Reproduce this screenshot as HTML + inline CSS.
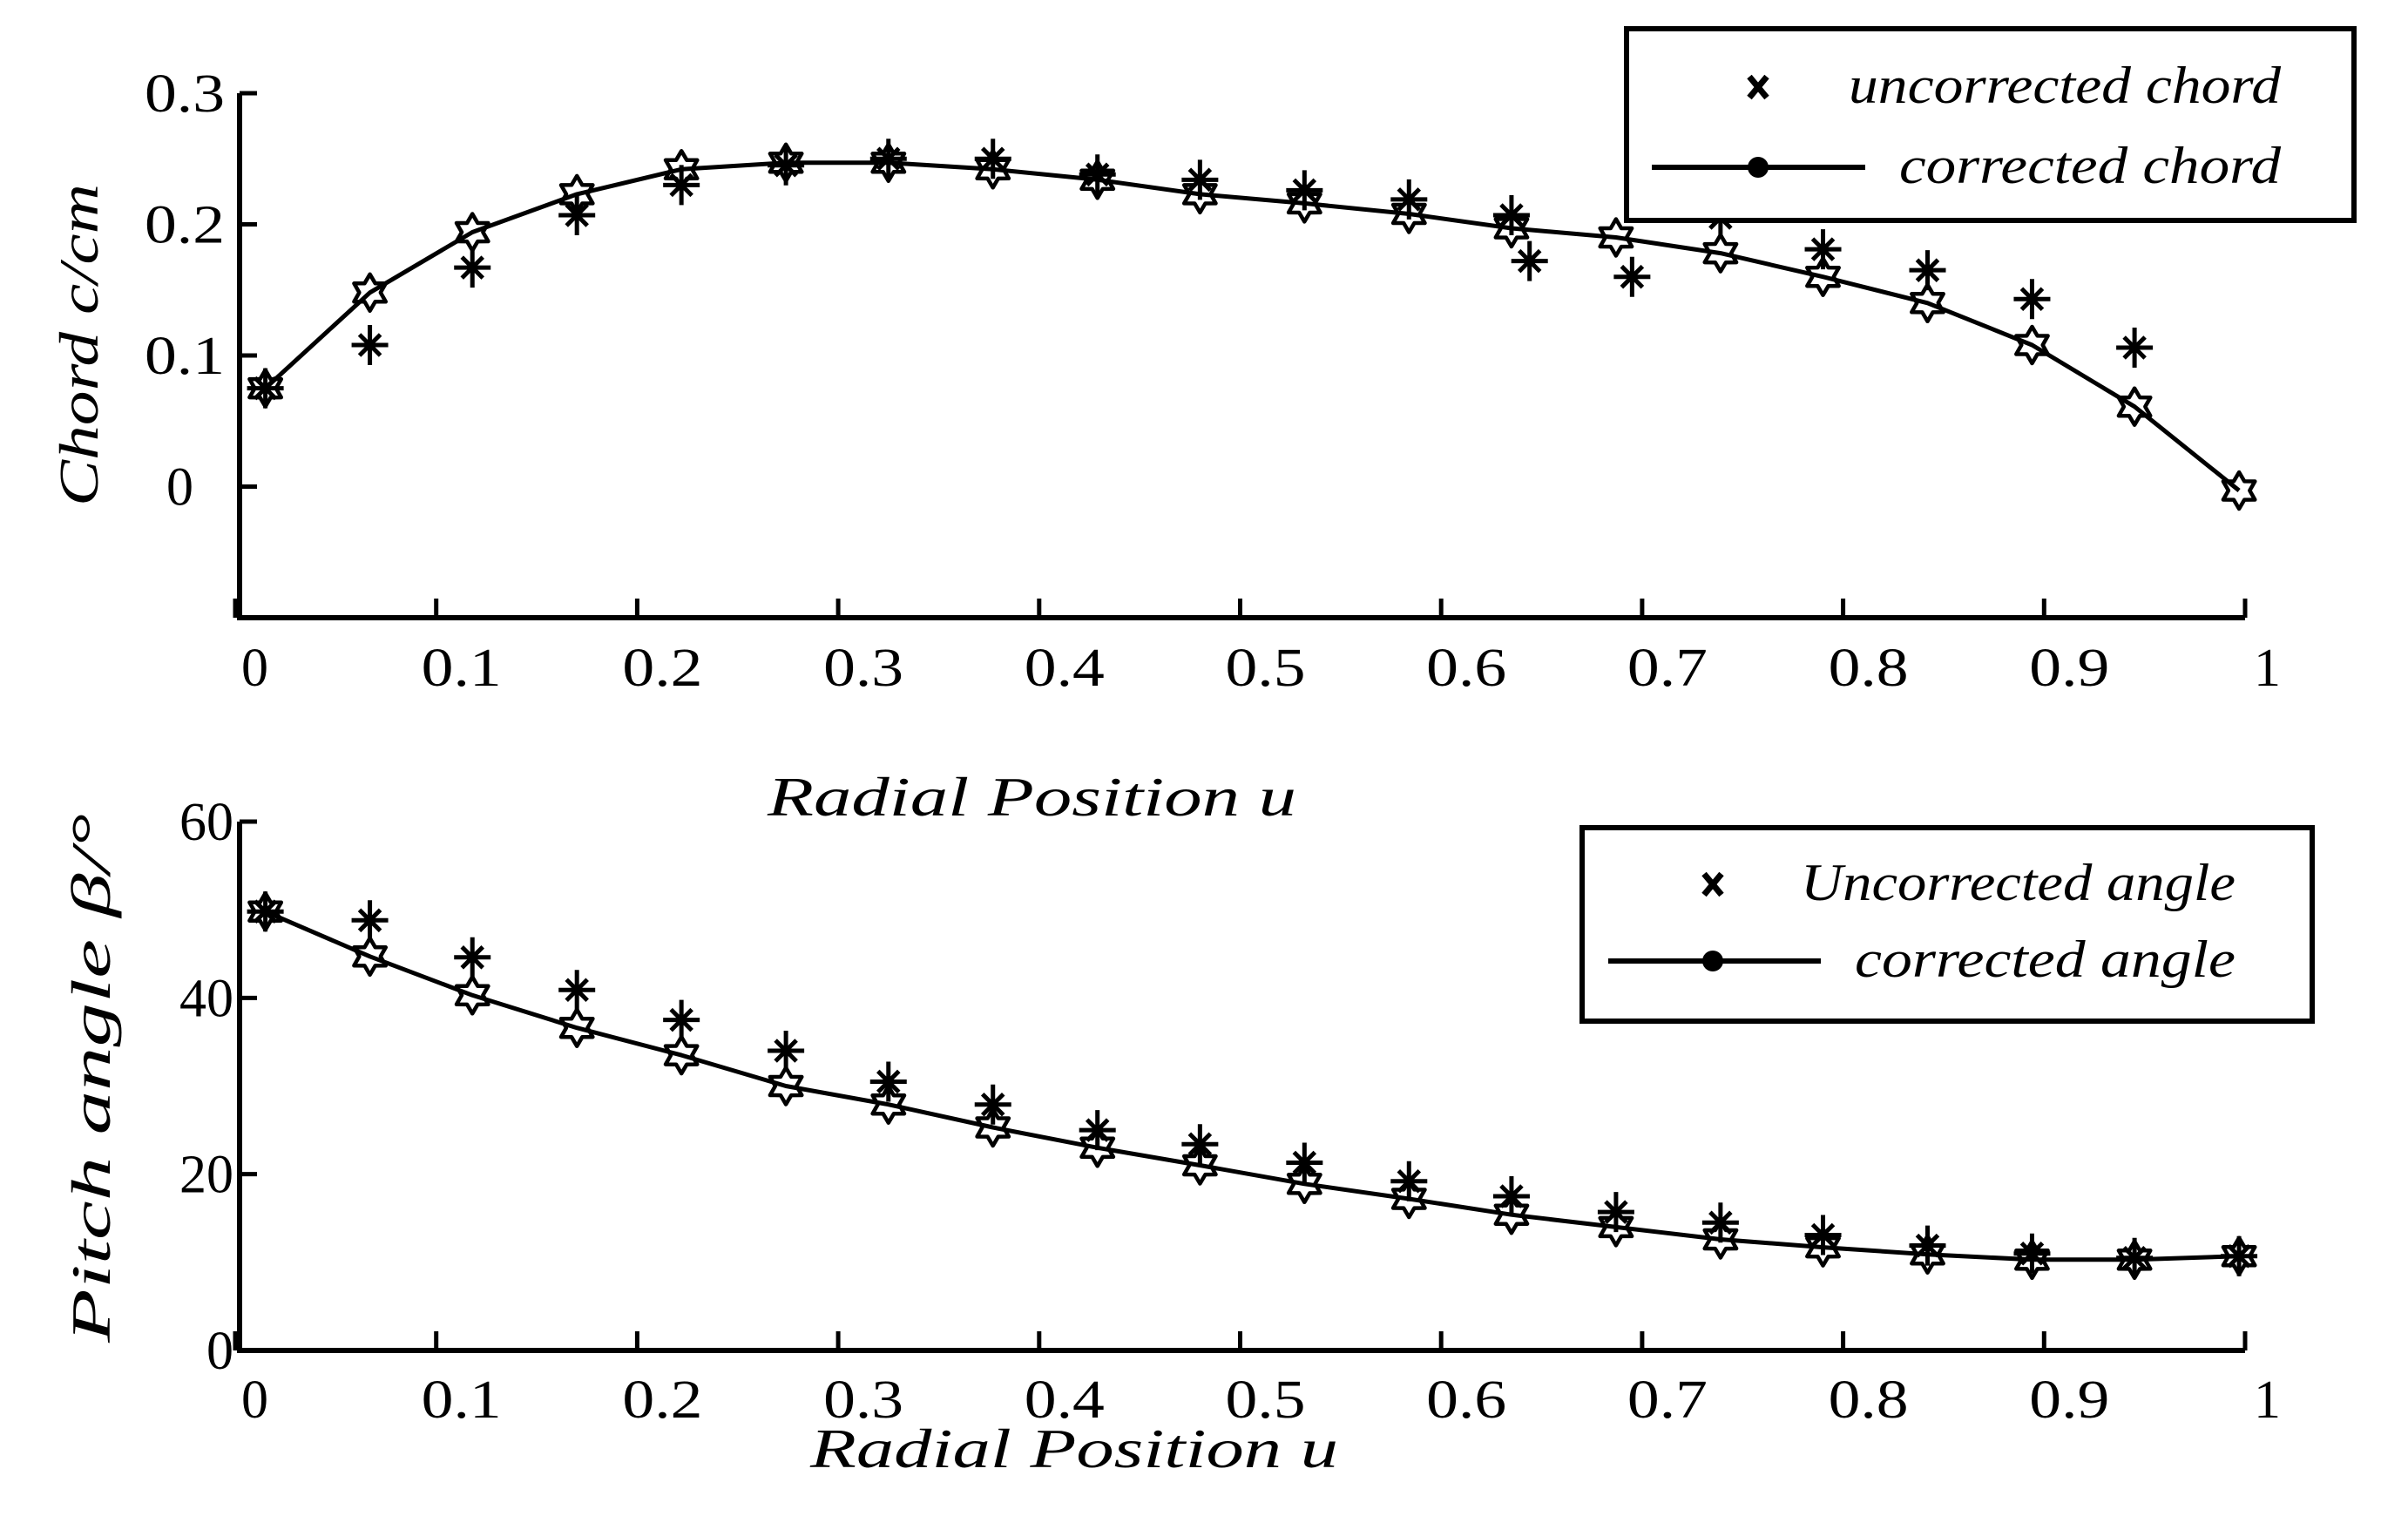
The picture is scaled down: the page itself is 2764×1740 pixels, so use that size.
<!DOCTYPE html>
<html><head><meta charset="utf-8"><style>
html,body{margin:0;padding:0;background:#fff;}
svg{display:block;}
text{font-family:"Liberation Serif","Noto Serif CJK SC",serif;fill:#000;}
</style></head><body>
<svg id="chart" width="2764" height="1740" viewBox="0 0 2764 1740" xmlns="http://www.w3.org/2000/svg">
<rect width="2764" height="1740" fill="#fff"/>
<g id="topPanel"></g>
<g id="botPanel"></g>
</svg>
<script>
const xTicks = [0,0.1,0.2,0.3,0.4,0.5,0.6,0.7,0.8,0.9,1];
const xTickLabels = ["0","0.1","0.2","0.3","0.4","0.5","0.6","0.7","0.8","0.9","1"];
const uCorr = [0.015,0.067,0.118,0.170,0.222,0.274,0.325,0.377,0.429,0.480,0.532,0.584,0.635,0.687,0.739,0.790,0.842,0.894,0.945,0.997];
const chordCorr = [0.075,0.148,0.194,0.223,0.242,0.247,0.247,0.242,0.234,0.223,0.216,0.208,0.197,0.190,0.178,0.160,0.140,0.108,0.061,-0.003];
const uChordUnc = [0.015,0.067,0.118,0.170,0.222,0.274,0.325,0.377,0.429,0.480,0.532,0.584,0.635,0.644,0.695,0.739,0.790,0.842,0.894,0.945];
const chordUnc = [0.075,0.108,0.167,0.207,0.230,0.245,0.250,0.250,0.238,0.234,0.226,0.219,0.207,0.172,0.160,0.205,0.181,0.165,0.143,0.106];
const chordTicks = [0,0.1,0.2,0.3];
const chordTickLabels = ["0","0.1","0.2","0.3"];
const angleCorr = [49.8,44.7,40.3,36.6,33.5,30.0,27.9,25.3,23.0,21.0,18.9,17.2,15.4,14.0,12.6,11.7,10.9,10.3,10.3,10.7];
const angleUnc = [49.8,48.8,44.6,40.9,37.5,34.0,30.5,27.9,25.0,23.4,21.3,19.2,17.5,15.7,14.5,13.1,11.9,11.0,10.5,10.7];
const angleTicks = [0,20,40,60];
const angleTickLabels = ["0","20","40","60"];

const NS="http://www.w3.org/2000/svg";
function mk(parent,tag,attrs,txt){const e=document.createElementNS(NS,tag);for(const k in attrs)e.setAttribute(k,attrs[k]);if(txt!==undefined)e.textContent=txt;parent.appendChild(e);return e;}
const X0=270, X1=2577;
function xs(u){return X0+u*(X1-X0);}
function hexPath(cx,cy){const R=21,r=12.2;let p="";for(let i=0;i<12;i++){const a=-Math.PI/2+i*Math.PI/6;const rr=i%2?r:R;p+=(i?"L":"M")+(cx+rr*Math.cos(a)).toFixed(1)+" "+(cy+rr*Math.sin(a)).toFixed(1);}return p+"Z";}
function astPath(cx,cy){return `M${cx} ${cy-23}L${cx} ${cy+23}M${cx-21} ${cy}L${cx+21} ${cy}M${cx-12} ${cy-12}L${cx+12} ${cy+12}M${cx-12} ${cy+12}L${cx+12} ${cy-12}`;}

function panel(g,o){
  const ys=v=>o.yBot-(v-o.ymin)/(o.ymax-o.ymin)*(o.yBot-o.yTop);
  const a=mk(g,"path",{d:`M275 ${o.yTop}L275 ${o.yBot}L${X1} ${o.yBot}`,fill:"none",stroke:"#000","stroke-width":6});
  
  
  xTicks.forEach((t,i)=>{
    const x=xs(t);
    const tk=mk(g,"line",{x1:x,y1:o.yBot,x2:x,y2:o.yBot-22,stroke:"#000","stroke-width":5});
    
    
    const lab=xTickLabels[i];
    const long=lab.length>1;
    const tx=mk(g,"text",long?{x:x-17,y:o.xLabY,"font-size":62,textLength:92,lengthAdjust:"spacingAndGlyphs"}:{x:x+(t===0?7:10),y:o.xLabY,"font-size":62},lab);
    
    
  });
  o.yTicks.forEach((t,i)=>{
    const y=ys(t);
    const tk=mk(g,"line",{x1:275,y1:y,x2:295,y2:y,stroke:"#000","stroke-width":5});
    
    
    const lab=o.yLabels[i];
    const attrs={x:o.yLabX(lab),y:y+21,"font-size":62,"text-anchor":"end"};
    if(lab.length===3){attrs.textLength=92;attrs.lengthAdjust="spacingAndGlyphs";}
    const tx=mk(g,"text",attrs,lab);
    
    
  });
  let d="";o.uC.forEach((u,i)=>{d+=(i?"L":"M")+xs(u).toFixed(1)+" "+ys(o.vC[i]).toFixed(1);});
  const ln=mk(g,"path",{d:d,fill:"none",stroke:"#000","stroke-width":5,"stroke-linejoin":"round"});
  
  
  o.uU.forEach((u,i)=>{
    const m=mk(g,"path",{d:astPath(xs(u),ys(o.vU[i])),stroke:"#000","stroke-width":5,fill:"none"});
    
    
  });
  o.uC.forEach((u,i)=>{
    const m=mk(g,"path",{d:hexPath(xs(u),ys(o.vC[i])),stroke:"#000","stroke-width":4.5,fill:"none","stroke-linejoin":"round"});
    
    
  });
}

const topG=document.getElementById("topPanel"), botG=document.getElementById("botPanel");
panel(topG,{ymin:-0.1,ymax:0.3,yBot:709,yTop:107,yTicks:chordTicks,yLabels:chordTickLabels,
  yLabX:l=>l.length>1?258:222,xLabY:787,uC:uCorr,vC:chordCorr,uU:uChordUnc,vU:chordUnc});
panel(botG,{ymin:0,ymax:60,yBot:1550,yTop:943,yTicks:angleTicks,yLabels:angleTickLabels,
  yLabX:l=>268,xLabY:1627,uC:uCorr,vC:angleCorr,uU:uCorr,vU:angleUnc});

function legend(g,box,l1,l2,e1,e2){
  const r=mk(g,"rect",{x:box[0],y:box[1],width:box[2]-box[0],height:box[3]-box[1],fill:"#fff",stroke:"#000","stroke-width":6});
  
  
  const m=mk(g,"path",{d:`M${l1.mx-10} ${l1.y-12}L${l1.mx+10} ${l1.y+12}M${l1.mx-10} ${l1.y+12}L${l1.mx+10} ${l1.y-12}`,stroke:"#000","stroke-width":7});
  
  
  const t1=mk(g,"text",{x:l1.tx,y:l1.y+18,"font-size":60,"font-style":"italic",textLength:l1.tw,lengthAdjust:"spacingAndGlyphs"},e1);
  
  
  const ll=mk(g,"line",{x1:l2.lx1,y1:l2.y,x2:l2.lx2,y2:l2.y,stroke:"#000","stroke-width":6});
  
  
  const c=mk(g,"circle",{cx:l1.mx,cy:l2.y,r:12,fill:"#000"});
  
  
  const t2=mk(g,"text",{x:l2.tx,y:l2.y+18,"font-size":60,"font-style":"italic",textLength:l2.tw,lengthAdjust:"spacingAndGlyphs"},e2);
  
  
}
legend(topG,[1867,33,2702,253],{mx:2018,y:100,tx:2122,tw:496},{lx1:1896,lx2:2141,y:192,tx:2180,tw:438},"uncorrected chord","corrected chord");
legend(botG,[1816,950,2654,1172],{mx:1966,y:1015,tx:2067,tw:499},{lx1:1846,lx2:2090,y:1103,tx:2129,tw:437},"Uncorrected angle","corrected angle");

function title(g,attrs,txt,name){const t=mk(g,"text",attrs,txt);}
title(topG,{x:881,y:936,"font-size":64,"font-style":"italic",textLength:607,lengthAdjust:"spacingAndGlyphs"},"Radial Position u","x-axis-title");
title(botG,{x:930,y:1684,"font-size":64,"font-style":"italic",textLength:606,lengthAdjust:"spacingAndGlyphs"},"Radial Position u","x-axis-title");
title(topG,{x:0,y:0,"font-size":64,"font-style":"italic",textLength:370,lengthAdjust:"spacingAndGlyphs",transform:"translate(112,581) rotate(-90)"},"Chord  c/cm","y-axis-title");
title(botG,{x:0,y:0,"font-size":64,"font-style":"italic",textLength:607,lengthAdjust:"spacingAndGlyphs",transform:"translate(126,1541) rotate(-90)"},"Pitch angle β/°","y-axis-title");
</script>
</body></html>
